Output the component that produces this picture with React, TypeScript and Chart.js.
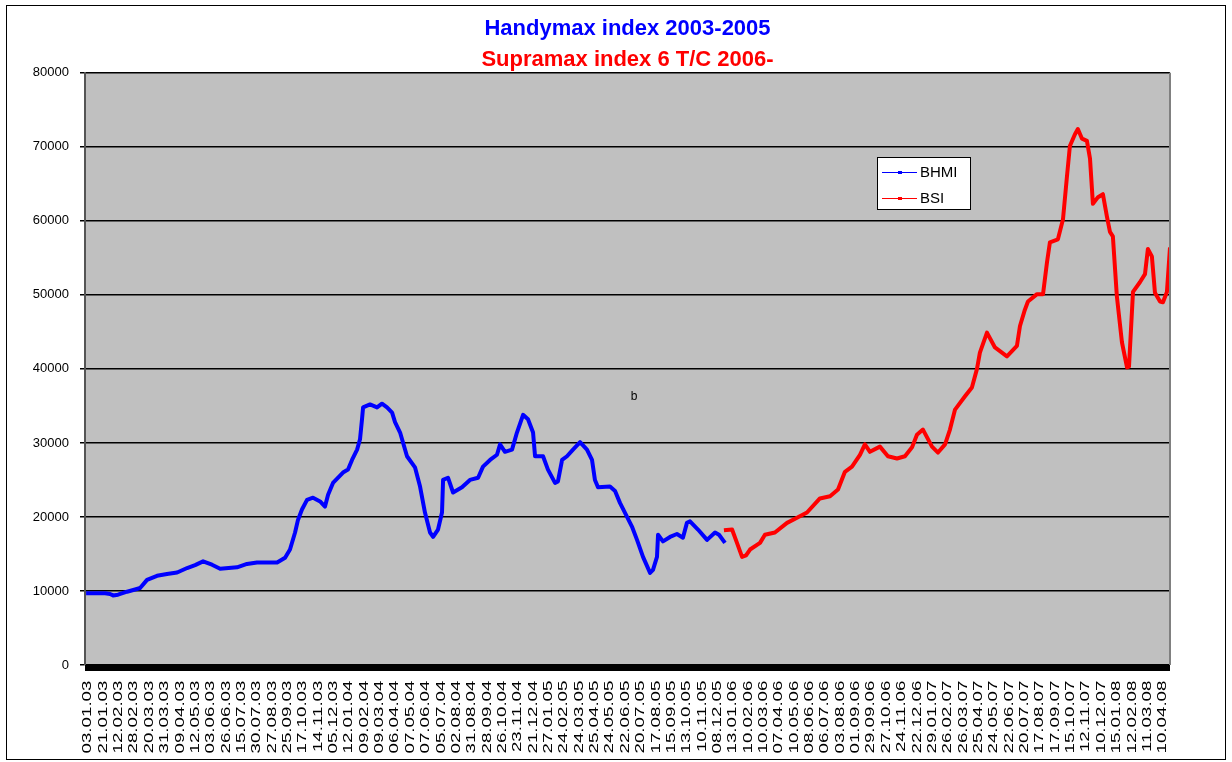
import React, { useEffect, useRef } from 'react';
import { Chart, registerables } from 'chart.js';

Chart.register(...registerables);

const FONT = "'Liberation Sans', Arial, sans-serif";

const TITLE = 'Handymax index 2003-2005';
const SUBTITLE = 'Supramax index 6 T/C 2006-';
const SERIES_NAMES = ['BHMI', 'BSI'];
const NOTE_TEXT = 'b';

const DATE_LABELS = [
  '03.01.03', '21.01.03', '12.02.03', '28.02.03', '20.03.03', '31.03.03', '09.04.03', '12.05.03',
  '03.06.03', '26.06.03', '15.07.03', '30.07.03', '27.08.03', '25.09.03', '17.10.03', '14.11.03',
  '05.12.03', '12.01.04', '09.02.04', '09.03.04', '06.04.04', '07.05.04', '07.06.04', '05.07.04',
  '02.08.04', '31.08.04', '28.09.04', '26.10.04', '23.11.04', '21.12.04', '27.01.05', '24.02.05',
  '24.03.05', '25.04.05', '24.05.05', '22.06.05', '20.07.05', '17.08.05', '15.09.05', '13.10.05',
  '10.11.05', '08.12.05', '13.01.06', '10.02.06', '10.03.06', '07.04.06', '10.05.06', '08.06.06',
  '06.07.06', '03.08.06', '01.09.06', '29.09.06', '27.10.06', '24.11.06', '22.12.06', '29.01.07',
  '26.02.07', '26.03.07', '25.04.07', '24.05.07', '22.06.07', '20.07.07', '17.08.07', '17.09.07',
  '15.10.07', '12.11.07', '10.12.07', '15.01.08', '12.02.08', '11.03.08', '10.04.08',
];

const Y_MIN = 0;
const Y_MAX = 80000;
const Y_STEP = 10000;

// positions measured in units of the date-label spacing (label index)
const BHMI_POS = [
  -0.13, 0.46, 1.11, 1.43, 1.63, 1.95, 2.54, 3.06, 3.39, 3.84, 4.49, 5.14, 5.8, 6.45, 6.97, 7.49,
  8.07, 8.6, 9.7, 10.35, 11.0, 12.31, 12.83, 13.15, 13.48, 13.67, 13.93, 14.26, 14.65, 15.11, 15.43,
  15.63, 15.95, 16.6, 16.93, 17.19, 17.52, 17.71, 17.84, 17.91, 18.36, 18.82, 19.14, 19.47, 19.8,
  19.99, 20.32, 20.77, 21.29, 21.62, 21.94, 22.27, 22.47, 22.79, 23.05, 23.12, 23.44, 23.77, 24.35,
  24.87, 25.4, 25.72, 26.18, 26.63, 26.83, 27.15, 27.61, 27.93, 28.33, 28.65, 28.98, 29.11, 29.63,
  29.95, 30.41, 30.6, 30.87, 31.19, 31.58, 32.04, 32.49, 32.82, 33.01, 33.21, 33.99, 34.32, 34.64,
  35.1, 35.42, 35.75, 36.14, 36.6, 36.79, 37.05, 37.12, 37.44, 37.9, 38.35, 38.74, 39.0, 39.2,
  39.72, 40.31, 40.83, 41.09, 41.48,
];
const BHMI_VAL = [
  9700, 9700, 9700, 9600, 9400, 9500, 9900, 10200, 10400, 11500, 12050, 12300, 12500, 13100, 13500, 14000,
  13550, 13000, 13200, 13650, 13850, 13850, 14500, 15600, 17900, 19600, 21000, 22300, 22600, 22100, 21400,
  23000, 24600, 26000, 26400, 27700, 29100, 30500, 33200, 34800, 35200, 34800, 35300, 34800, 34100,
  32800, 31400, 28200, 26700, 24100, 20600, 17900, 17300, 18300, 20600, 25000, 25300, 23300, 24000,
  25000, 25300, 26800, 27700, 28400, 29800, 28800, 29100, 31400, 33800, 33200, 31400, 28200, 28200,
  26400, 24600, 24800, 27700, 28200, 29100, 30100, 29100, 27700, 25000, 24000, 24100, 23500, 21900,
  20000, 18700, 16900, 14600, 12450, 12850, 14600, 17600, 16700, 17300, 17700, 17200, 19200, 19400,
  18300, 16900, 17900, 17600, 16500,
];

const BSI_POS = [
  41.41, 41.94, 42.26, 42.59, 42.85, 43.11, 43.76, 44.08, 44.73, 45.52, 46.17, 46.82, 47.66, 48.32,
  48.84, 49.29, 49.75, 50.27, 50.59, 50.92, 51.57, 52.09, 52.68, 53.2, 53.66, 53.98, 54.37, 54.96,
  55.35, 55.81, 56.13, 56.46, 57.11, 57.56, 57.89, 58.08, 58.54, 59.06, 59.84, 60.49, 60.69, 61.01,
  61.21, 61.8, 62.19, 62.45, 62.64, 63.16, 63.49, 63.75, 63.94, 64.27, 64.46, 64.73, 65.05, 65.25,
  65.44, 65.77, 66.09, 66.35, 66.55, 66.74, 67.0, 67.33, 67.66, 67.79, 68.05, 68.5, 68.83, 69.02,
  69.28, 69.48, 69.81, 70.0, 70.26, 70.46,
];
const BSI_VAL = [
  18200, 18300, 16500, 14600, 14800, 15600, 16500, 17600, 17900, 19200, 19900, 20600, 22500, 22800,
  23700, 26100, 26800, 28400, 29800, 28800, 29500, 28200, 27900, 28200, 29400, 31100, 31800, 29500,
  28700, 29800, 31800, 34500, 36300, 37500, 40000, 42200, 44900, 42900, 41700, 43100, 45800, 48000,
  49100, 50100, 50100, 54400, 57100, 57500, 60200, 66000, 70100, 71700, 72400, 71100, 70800, 68400,
  62300, 63200, 63600, 60600, 58500, 57900, 49800, 43600, 40200, 40300, 50400, 51700, 52800, 56200,
  55200, 50300, 49100, 49000, 50400, 56400,
];

const X_MIN = -0.2;
const X_MAX = 70.46;

const COLORS = ['#0000ff', '#ff0000'];
const LABEL_STRETCH = 1.56;

const decorPlugin = {
  id: 'decor',
  beforeDraw(chart: any) {
    const { ctx, chartArea: a, width, height } = chart;
    ctx.save();
    ctx.fillStyle = '#ffffff';
    ctx.fillRect(0, 0, width, height);
    ctx.fillStyle = '#c0c0c0';
    ctx.fillRect(a.left, a.top, a.right - a.left, a.bottom - a.top);
    ctx.strokeStyle = '#000000';
    ctx.lineWidth = 1;
    ctx.strokeRect(6.5, 5.5, width - 13, height - 8);
    ctx.restore();
    const xs = chart.scales.x;
    if (xs && !xs.__stretched) {
      const orig = xs.drawLabels;
      xs.drawLabels = function (area: any) {
        const c = this.ctx;
        c.save();
        const y0 = this.top;
        c.translate(0, y0);
        c.scale(1, LABEL_STRETCH);
        c.translate(0, -y0);
        orig.call(this, area);
        c.restore();
      };
      xs.__stretched = true;
    }
  },
  afterDatasetsDraw(chart: any) {
    const { ctx, chartArea: a } = chart;
    ctx.save();
    ctx.fillStyle = '#000000';
    ctx.fillRect(a.left, a.bottom, a.right - a.left, 6);
    ctx.strokeStyle = '#808080';
    ctx.lineWidth = 2;
    ctx.beginPath();
    ctx.moveTo(a.right, a.top);
    ctx.lineTo(a.right, a.bottom);
    ctx.stroke();
    ctx.restore();
  },
  afterDraw(chart: any) {
    const { ctx } = chart;
    ctx.save();
    // legend box
    const bx = 877.5, by = 157.5, bw = 93, bh = 52;
    ctx.fillStyle = '#ffffff';
    ctx.fillRect(bx, by, bw, bh);
    ctx.strokeStyle = '#000000';
    ctx.lineWidth = 1;
    ctx.strokeRect(bx, by, bw, bh);
    ctx.font = `15px ${FONT}`;
    ctx.textBaseline = 'middle';
    ctx.textAlign = 'left';
    const rows = [172.5, 198.5];
    SERIES_NAMES.forEach((name, i) => {
      const y = rows[i];
      ctx.strokeStyle = COLORS[i];
      ctx.lineWidth = 1;
      ctx.beginPath();
      ctx.moveTo(882, y);
      ctx.lineTo(917, y);
      ctx.stroke();
      ctx.fillStyle = COLORS[i];
      ctx.fillRect(898, y - 1.5, 4, 3);
      ctx.fillStyle = '#000000';
      ctx.fillText(name, 920, y + 0.5);
    });
    // stray note text
    ctx.font = `12px ${FONT}`;
    ctx.textAlign = 'center';
    ctx.fillStyle = '#000000';
    ctx.fillText(NOTE_TEXT, 634, 397);
    ctx.restore();
  },
};

export default function App() {
  const ref = useRef<HTMLCanvasElement | null>(null);

  useEffect(() => {
    document.body.style.margin = '0';
    const canvas = ref.current;
    if (!canvas) return;
    Chart.defaults.font.family = FONT;
    Chart.defaults.color = '#000000';

    const chart = new Chart(canvas, {
      type: 'line',
      data: {
        datasets: [
          {
            label: SERIES_NAMES[0],
            data: BHMI_POS.map((x, i) => ({ x, y: BHMI_VAL[i] })),
            borderColor: COLORS[0],
            backgroundColor: COLORS[0],
            borderWidth: 4,
            pointRadius: 0,
            tension: 0,
            borderJoinStyle: 'round',
          },
          {
            label: SERIES_NAMES[1],
            data: BSI_POS.map((x, i) => ({ x, y: BSI_VAL[i] })),
            borderColor: COLORS[1],
            backgroundColor: COLORS[1],
            borderWidth: 4,
            pointRadius: 0,
            tension: 0,
            borderJoinStyle: 'round',
          },
        ],
      },
      options: {
        animation: false,
        responsive: false,
        maintainAspectRatio: false,
        layout: { padding: { top: 16, left: 0, right: 62, bottom: 0 } },
        plugins: {
          legend: { display: false },
          tooltip: { enabled: false },
          title: {
            display: true,
            text: TITLE,
            color: '#0000ff',
            fullSize: false,
            font: { family: FONT, size: 22, weight: 'bold', lineHeight: 1.2 },
            padding: { top: 0, bottom: 4 },
          },
          subtitle: {
            display: true,
            text: SUBTITLE,
            color: '#ff0000',
            fullSize: false,
            font: { family: FONT, size: 22, weight: 'bold', lineHeight: 1.2 },
            padding: { top: 0, bottom: 0 },
          },
        },
        scales: {
          x: {
            type: 'linear',
            min: X_MIN,
            max: X_MAX,
            afterFit: (s: any) => {
              s.height = 97;
            },
            afterBuildTicks: (s: any) => {
              s.ticks = DATE_LABELS.map((_, i) => ({ value: i }));
            },
            ticks: {
              autoSkip: false,
              minRotation: 90,
              maxRotation: 90,
              padding: 2,
              color: '#000000',
              font: { family: FONT, size: 12 },
              callback: (v: any) => DATE_LABELS[v] ?? '',
            },
            grid: { display: false },
            border: { display: false },
          },
          y: {
            min: Y_MIN,
            max: Y_MAX,
            afterFit: (s: any) => {
              s.width = 85;
            },
            ticks: {
              stepSize: Y_STEP,
              padding: 11,
              color: '#000000',
              font: { family: FONT, size: 13 },
              callback: (v: any) => String(v),
            },
            grid: { color: '#000000', lineWidth: 1.5, tickLength: 5 },
            border: { color: '#555555', width: 2 },
          },
        },
      },
      plugins: [decorPlugin],
    } as any);

    return () => chart.destroy();
  }, []);

  return (
    <div style={{ position: 'absolute', left: 0, top: 0, width: 1232, height: 762 }}>
      <canvas ref={ref} width={1232} height={762} style={{ display: 'block', width: 1232, height: 762 }} />
    </div>
  );
}
